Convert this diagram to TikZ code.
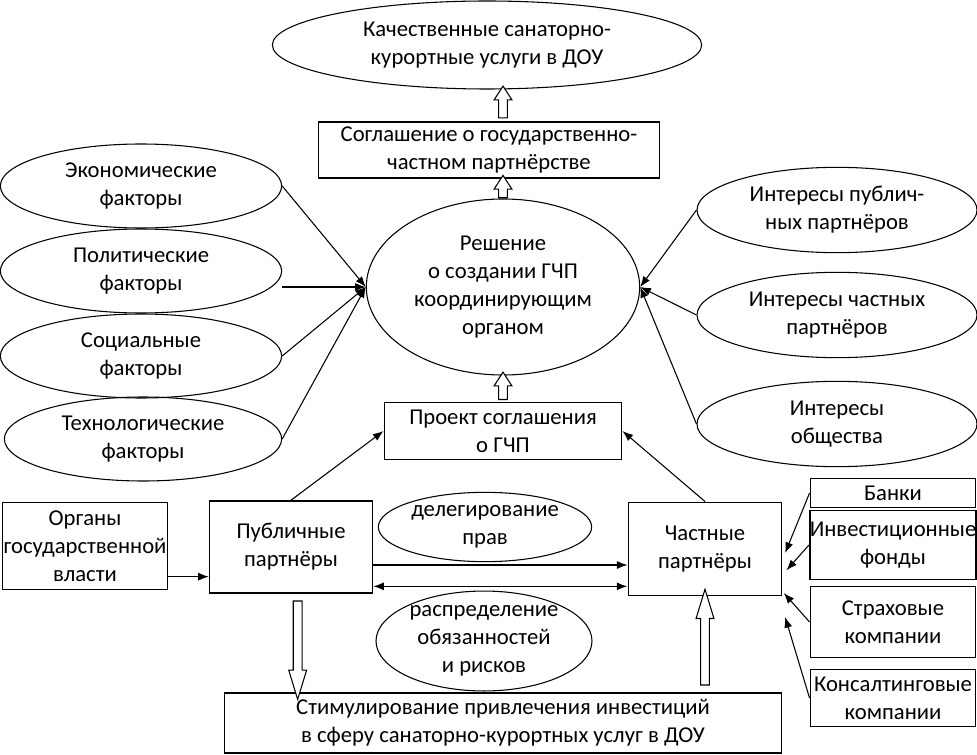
\documentclass[tikz,border=0pt]{standalone}
\usepackage{fontspec}
\setmainfont{Carlito}
\usetikzlibrary{shapes.geometric,shapes.arrows,arrows.meta,calc}

\tikzset{
	oval/.style={ellipse, draw, line width=0.8pt, align=center, inner sep=0pt},
	frame/.style={rectangle, draw, line width=1.2pt, align=center, inner sep=0pt},
	link/.style={line width=0.8pt, -{Latex[length=8pt,width=6pt]}},
	twoway/.style={line width=1.2pt, {Latex[length=8pt,width=6pt]}-{Latex[length=8pt,width=6pt]}},
	fat/.style={single arrow, draw, fill=white, line width=0.8pt, inner sep=2.9pt,
		single arrow head extend=3.4pt, single arrow tip angle=66, single arrow head indent=0pt},
	longfat/.style={single arrow tip angle=34}
}
\newcommand{\fatarrow}[4][]{%
	\path let \p1=($(#3)-(#2)$), \n1={veclen(\x1,\y1)} in
		node[fat, #1, minimum height=\n1, rotate=#4] at ($(#2)!0.5!(#3)$) {};}

\begin{document}
\begin{tikzpicture}[x=0.75pt,y=-0.75pt,font=\fontsize{17}{21}\selectfont]
	\useasboundingbox (0,0) rectangle (977,755);
	\node[oval, minimum width=322pt, minimum height=66pt] (result) at (487,45) {Качественные санаторно-\\курортные услуги в ДОУ};
	\node[frame, minimum width=256pt, minimum height=42pt] (agree) at (489,150) {Соглашение о государственно-\\частном партнёрстве};
	\node[oval, minimum width=205pt, minimum height=132pt] (decision) at (503,287) {Решение\\о создании ГЧП\\координирующим\\органом};
	\node[frame, minimum width=178pt, minimum height=43pt] (project) at (503,431) {Проект соглашения\\о ГЧП};

	\node[oval, minimum width=211pt, minimum height=63pt] (econ)   at (141,186) {Экономические\\факторы};
	\node[oval, minimum width=211pt, minimum height=63pt] (polit)  at (141,271) {Политические\\факторы};
	\node[oval, minimum width=211pt, minimum height=63pt] (social) at (141,356) {Социальные\\факторы};
	\node[oval, minimum width=208pt, minimum height=63pt] (tech)   at (143,439) {Технологические\\факторы};

	\node[oval, minimum width=210pt, minimum height=64pt] (pubint)  at (837,210) {Интересы публич-\\ных партнёров};
	\node[oval, minimum width=210pt, minimum height=64pt] (privint) at (837,315) {Интересы частных\\партнёров};
	\node[oval, minimum width=210pt, minimum height=64pt] (socint)  at (837,424) {Интересы\\общества};

	\node[frame, minimum width=124pt, minimum height=65pt] (organs)  at (85,546)  {Органы\\государственной\\власти};
	\node[frame, minimum width=122pt, minimum height=69pt] (public)  at (291,547) {Публичные\\партнёры};
	\node[frame, minimum width=115pt, minimum height=70pt] (private) at (705,549) {Частные\\партнёры};
	\node[oval, minimum width=160pt, minimum height=52pt] (deleg)   at (485,527) {делегирование\\прав};
	\node[oval, minimum width=162pt, minimum height=66pt] (distrib) at (484,641) {распределение\\обязанностей\\и рисков};
	\node[frame, minimum width=418pt, minimum height=45pt] (stim) at (503,723) {Стимулирование привлечения инвестиций\\в сферу санаторно-курортных услуг в ДОУ};

	\node[frame, minimum width=124pt, minimum height=22pt] (banks)   at (893,493) {Банки};
	\node[frame, minimum width=124pt, minimum height=52pt] (funds)   at (893,545) {Инвестиционные\\фонды};
	\node[frame, minimum width=124pt, minimum height=53pt] (insur)   at (893,622) {Страховые\\компании};
	\node[frame, minimum width=124pt, minimum height=43pt] (consult) at (893,698) {Консалтинговые\\компании};

	\draw[link] (econ.east) -- (decision.west);
	\draw[link] (polit.east |- decision.west) -- (decision.west);
	\draw[link] (social.east) -- (decision.west);
	\draw[link] (tech.east) -- (decision.west);
	\draw[link] (pubint.west) -- (decision.east);
	\draw[link] (privint.west) -- (decision.east);
	\draw[link] (socint.west) -- (decision.east);

	\draw[link] ([yshift=-23pt]organs.east) -- ([yshift=-23pt]organs.east -| public.west);
	\draw[link] ([yshift=-13.5pt]public.east) -- ([yshift=-13.5pt]public.east -| private.west);
	\draw[twoway] ([yshift=-29.5pt]public.east) -- ([yshift=-29.5pt]public.east -| private.west);
	\draw[link] (public.north) -- (project.west);
	\draw[link] (private.north) -- (project.east);

	\draw[link] (banks.west) -- ([xshift=2pt,yshift=-3pt]private.east);
	\draw[link] (funds.west) -- ([xshift=3pt,yshift=-16pt]private.east);
	\draw[link] (insur.west) -- ([xshift=1pt,yshift=-33pt]private.east);
	\draw[link] (consult.west) -- ([xshift=2pt,yshift=-51pt]private.east);

	\fatarrow{decision.center |- agree.north}{decision.center |- result.south}{90}
	\fatarrow{[yshift=-2pt]decision.north}{decision.center |- agree.south}{90}
	\fatarrow{[yshift=-1pt]decision.center |- project.north}{decision.south}{90}
	\fatarrow[longfat]{[xshift=5pt]public.south}{[xshift=5pt]public.south |- stim.north}{-90}
	\fatarrow[longfat]{private.south |- stim.north}{private.south}{90}
\end{tikzpicture}
\end{document}
